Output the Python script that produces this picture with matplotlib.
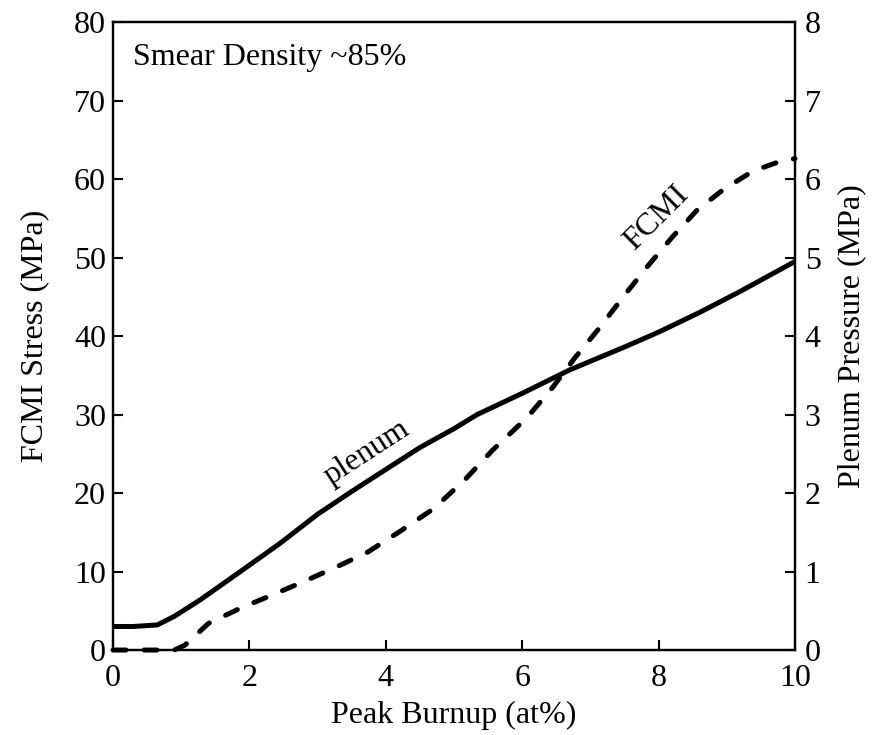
import matplotlib
matplotlib.use('Agg')
import matplotlib.pyplot as plt

plt.rcParams['font.family'] = ['Liberation Serif', 'DejaVu Serif']

# FCMI stress (MPa), left axis
fcmi_x = [0, 0.9, 1.05, 1.4, 1.86, 2.33, 2.79, 3.28, 3.74, 4.24, 4.7, 5.16, 5.57,
          6.07, 6.45, 6.77, 7.13, 7.5, 7.83, 8.2, 8.56, 8.94, 9.38, 9.83, 10]
fcmi_y = [0, 0, 0.6, 3.4, 5.3, 7.0, 8.7, 10.6, 12.5, 15.3, 18.0, 21.7, 25.5,
          29.6, 33.5, 37.2, 41.0, 45.2, 48.8, 52.6, 56.0, 58.6, 61.0, 62.4, 62.6]

# plenum pressure (MPa), right axis
plen_x = [0, 0.3, 0.65, 0.9, 1.28, 1.9, 2.45, 3, 3.5, 3.91, 4.5, 5, 5.34, 6,
          6.7, 7.5, 8, 8.6, 9.2, 10]
plen_y = [0.30, 0.30, 0.32, 0.43, 0.64, 1.02, 1.36, 1.73, 2.02, 2.25, 2.58, 2.82,
          3.00, 3.27, 3.57, 3.86, 4.05, 4.30, 4.57, 4.95]

fig = plt.figure(figsize=(8.79, 7.35), dpi=100)
ax = fig.add_axes([0.1286, 0.1156, 0.7758, 0.8544])
ax2 = ax.twinx()

ax.plot(fcmi_x, fcmi_y, color='black', lw=3.6, dashes=(2.6, 3.6),
        dash_capstyle='round', clip_on=False)
ax2.plot(plen_x, plen_y, color='black', lw=3.6, solid_capstyle='butt')

ax.set_xlim(0, 10)
ax.set_ylim(0, 80)
ax2.set_ylim(0, 8)
ax.set_xticks([0, 2, 4, 6, 8, 10])
ax.set_yticks(range(0, 81, 10))
ax2.set_yticks(range(0, 9))

fs = 23
for a in (ax, ax2):
    for s in a.spines.values():
        s.set_linewidth(1.6)
ax.tick_params(direction='in', length=7, width=1.5, labelsize=fs, pad=5)
ax.tick_params(axis='x', pad=10)
ax2.tick_params(direction='in', length=7, width=1.5, labelsize=fs, pad=7)

ax.set_xlabel('Peak Burnup (at%)', fontsize=fs, labelpad=6)
ax.set_ylabel('FCMI Stress (MPa)', fontsize=fs, labelpad=18)
ax2.set_ylabel('Plenum Pressure (MPa)', fontsize=fs, labelpad=12)

ax.text(0.3, 75.5, 'Smear Density ~85%', fontsize=fs, va='center')
ax.text(3.72, 25.1, 'plenum', fontsize=fs, rotation=33, ha='center', va='center')
ax.text(7.97, 55.0, 'FCMI', fontsize=fs, rotation=45, ha='center', va='center')

fig.savefig('out.png', dpi=100)
